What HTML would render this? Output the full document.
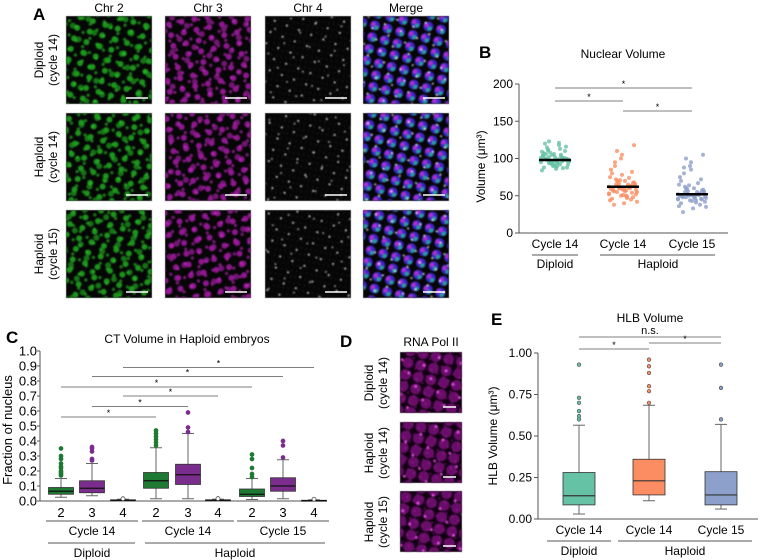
<!DOCTYPE html>
<html><head><meta charset="utf-8">
<style>
html,body{margin:0;padding:0;background:#fff;}
svg{display:block;font-family:"Liberation Sans",Arial,sans-serif;}
</style></head>
<body>
<svg id="fig" width="763" height="560" viewBox="0 0 763 560" xmlns="http://www.w3.org/2000/svg">
<defs>
  <filter id="blur1"><feGaussianBlur stdDeviation="0.8"/></filter>
  <pattern id="g1" width="13" height="11" patternUnits="userSpaceOnUse" patternTransform="rotate(17)"><circle cx="4" cy="4" r="3" fill="#1fb81f" fill-opacity="0.8"/></pattern>
  <pattern id="g2" width="17" height="15" patternUnits="userSpaceOnUse" patternTransform="rotate(-23)"><circle cx="6" cy="7" r="3" fill="#18a018" fill-opacity="0.7"/></pattern>
  <pattern id="g3" width="9" height="11" patternUnits="userSpaceOnUse" patternTransform="rotate(41)"><circle cx="3" cy="3" r="1.6" fill="#26cc26" fill-opacity="0.6"/></pattern>
  <pattern id="m1" width="13" height="11" patternUnits="userSpaceOnUse" patternTransform="rotate(-12)"><circle cx="4" cy="4" r="3" fill="#b41cb4" fill-opacity="0.8"/></pattern>
  <pattern id="m2" width="17" height="15" patternUnits="userSpaceOnUse" patternTransform="rotate(29)"><circle cx="6" cy="7" r="3" fill="#a018a0" fill-opacity="0.7"/></pattern>
  <pattern id="m3" width="9" height="11" patternUnits="userSpaceOnUse" patternTransform="rotate(-37)"><circle cx="3" cy="3" r="1.6" fill="#cc26cc" fill-opacity="0.6"/></pattern>
  <pattern id="w1" width="13" height="12" patternUnits="userSpaceOnUse" patternTransform="rotate(21)"><circle cx="4" cy="5" r="1" fill="#ddd"/></pattern>
  <pattern id="w2" width="19" height="17" patternUnits="userSpaceOnUse" patternTransform="rotate(-33)"><circle cx="6" cy="4" r="0.9" fill="#bbb"/></pattern>
  <pattern id="w3" width="5" height="6" patternUnits="userSpaceOnUse" patternTransform="rotate(11)"><circle cx="2" cy="2" r="0.4" fill="#555"/></pattern>
  <pattern id="b1" width="13" height="12" patternUnits="userSpaceOnUse" patternTransform="rotate(14)"><circle cx="6" cy="6" r="5" fill="#3a28c8"/></pattern>
  <pattern id="b2" width="13" height="12" patternUnits="userSpaceOnUse" patternTransform="rotate(14)"><circle cx="4" cy="5" r="2.3" fill="#c030d8" fill-opacity="0.85"/><circle cx="8" cy="8" r="2" fill="#20b890" fill-opacity="0.85"/></pattern>
  <pattern id="b3" width="13" height="12" patternUnits="userSpaceOnUse" patternTransform="rotate(-19)"><circle cx="5" cy="4" r="0.9" fill="#fff"/></pattern>
  <pattern id="pp1" width="13" height="12" patternUnits="userSpaceOnUse" patternTransform="rotate(12)"><circle cx="6.5" cy="6" r="5.4" fill="#6a0e6a"/></pattern>
  <pattern id="pp2" width="17" height="15" patternUnits="userSpaceOnUse" patternTransform="rotate(-27)"><circle cx="8" cy="8" r="1.2" fill="#ff55ff"/></pattern>
  <pattern id="pp3" width="7" height="8" patternUnits="userSpaceOnUse" patternTransform="rotate(33)"><circle cx="3" cy="3" r="1" fill="#a020a0" fill-opacity="0.6"/></pattern>
</defs>
<g id="panelA"></g>
<g id="panelB"></g>
<g id="panelC"></g>
<g id="panelD"></g>
<g id="panelE"></g>
</svg>
<script>
// ---------- data ----------
const bCategories = ["Cycle 14","Cycle 14","Cycle 15"];
const bMeans = [98, 62, 52];
const bDiploid = [98,102,95,110,88,105,92,99,115,97,101,84,108,94,100,120,90,103,96,112,86,99,104,93,118,97,106,91,101,95,123,89,100,107,96,113,92,98,102,87,109,94,99,116,100,93,105,97,111,90,98,103,95,121,88,100,106,96,101,94];
const bHaploid14 = [62,55,70,48,80,60,65,52,90,58,45,75,63,50,68,57,100,61,42,72,59,54,85,66,49,64,38,78,60,53,110,56,67,46,71,62,58,95,51,63,44,69,57,118,61,50,74,55,65,40,82,59,60,47,66,56,105,63,52,70];
const bHaploid15 = [52,48,60,45,70,50,55,42,80,51,38,65,53,47,58,49,90,52,35,62,50,46,75,56,44,54,28,85,51,46,100,48,57,40,64,52,49,88,43,53,36,59,50,105,51,44,67,47,55,33,72,50,51,41,56,48,95,53,45,60];
const cCategories = ["2","3","4","2","3","4","2","3","4"];
const cGroupLabels = ["Cycle 14","Cycle 14","Cycle 15"];
const cQ1 = [0.045,0.055,0.003,0.085,0.11,0.003,0.03,0.065,0.002];
const cMed = [0.065,0.085,0.005,0.135,0.175,0.005,0.045,0.10,0.003];
const cQ3 = [0.09,0.135,0.008,0.19,0.245,0.008,0.08,0.155,0.005];
const cLo = [0.025,0.035,0.001,0.015,0.015,0.001,0.01,0.015,0.001];
const cHi = [0.15,0.25,0.012,0.355,0.45,0.012,0.15,0.275,0.008];
const cOut = [[0.17,0.18,0.19,0.2,0.22,0.23,0.25,0.28,0.3,0.35],[0.27,0.28,0.33,0.35,0.36],[0.015],[0.37,0.39,0.41,0.43,0.45,0.47],[0.46,0.49,0.59],[0.016],[0.16,0.18,0.22,0.28,0.31],[0.29,0.37,0.4],[0.012]];
const cSigFrom = [2,1,0,2,1,0];
const cSigTo = [8,7,6,5,4,3];
const cSigY = [0.89,0.83,0.76,0.70,0.63,0.56];
const cTicks = [0,0.1,0.2,0.3,0.4,0.5,0.6,0.7,0.8,0.9,1.0];
const eCategories = ["Cycle 14","Cycle 14","Cycle 15"];
const eQ1 = [0.085,0.145,0.085];
const eMed = [0.14,0.23,0.145];
const eQ3 = [0.28,0.36,0.285];
const eLo = [0.03,0.11,0.06];
const eHi = [0.565,0.685,0.57];
const eOut = [[0.6,0.62,0.65,0.7,0.73,0.93],[0.7,0.77,0.8,0.88,0.92,0.96],[0.6,0.79,0.93]];
const eTicks = [0,0.25,0.5,0.75,1.0];
const bTicks = [0,50,100,150,200];

const NS="http://www.w3.org/2000/svg";
function mk(parent,tag,attrs,text){const e=document.createElementNS(NS,tag);for(const k in attrs)e.setAttribute(k,attrs[k]);if(text!==undefined)e.textContent=text;parent.appendChild(e);return e;}

// ---------- Panel A ----------
const A=document.getElementById('panelA');
let t;
t=mk(A,'text',{x:33,y:20,'font-size':17,'font-weight':'bold'},'A');

const colTitles=["Chr 2","Chr 3","Chr 4","Merge"];
const colX=[66,165,265,363];
const rowY=[16,113,210];
const rowLab=[["Diploid","(cycle 14)"],["Haploid","(cycle 14)"],["Haploid","(cycle 15)"]];
const pats=[["g1","g2","g3"],["m1","m2","m3"],["w1","w2","w3"],["b1","b2","b3"]];
colTitles.forEach((c,i)=>{t=mk(A,'text',{x:colX[i]+43,y:12,'font-size':12,'text-anchor':'middle'},c);
});
rowLab.forEach((r,j)=>{const cy=rowY[j]+44;
 const g=mk(A,'text',{transform:`translate(43,${cy}) rotate(-90)`,'font-size':12,'text-anchor':'middle'});
 
 mk(g,'tspan',{x:0,y:0},r[0]);mk(g,'tspan',{x:0,y:14},r[1]);});
colX.forEach((x,i)=>rowY.forEach((y,j)=>{
 const r=mk(A,'rect',{x:x,y:y,width:86,height:88,fill:'#060606',stroke:'#bbb','stroke-width':0.6});
 
 const gg=mk(A,'g',{filter:'url(#blur1)',transform:`translate(${j*5},${j*3})`});
 pats[i].forEach(p=>mk(gg,'rect',{x:x+0.5-j*5,y:y+0.5-j*3,width:85,height:87,fill:`url(#${p})`}));
 const s=mk(A,'line',{x1:x+60,x2:x+82,y1:y+82,y2:y+82,stroke:'#fff','stroke-width':1.5});
 
}));

// ---------- Panel D ----------
const D=document.getElementById('panelD');
t=mk(D,'text',{x:340,y:347,'font-size':17,'font-weight':'bold'},'D');

t=mk(D,'text',{x:431,y:346,'font-size':12,'text-anchor':'middle'},'RNA Pol II');

const dY=[352,422,491];
dY.forEach((y,j)=>{
 const r=mk(D,'rect',{x:400,y:y,width:62,height:61,fill:'#120012',stroke:'#bbb','stroke-width':0.6});
 
 const gg=mk(D,'g',{filter:'url(#blur1)'});
 ["pp1","pp3","pp2"].forEach(p=>mk(gg,'rect',{x:400.5,y:y+0.5,width:61,height:60,fill:`url(#${p})`}));
 mk(D,'line',{x1:443,x2:456,y1:y+55,y2:y+55,stroke:'#fff','stroke-width':1.5});
 const g=mk(D,'text',{transform:`translate(373,${y+31}) rotate(-90)`,'font-size':12,'text-anchor':'middle'});
 
 mk(g,'tspan',{x:0,y:0},rowLab[j][0]);mk(g,'tspan',{x:0,y:14},rowLab[j][1]);
});

function star(P,x1,x2,y,label){
 const l=mk(P,'line',{x1:x1,x2:x2,y1:y,y2:y,stroke:'#555','stroke-width':0.8});
 
 const s=mk(P,'text',{x:(x1+x2)/2,y:label==='*'?y-1:y-3,'font-size':label==='*'?9:11,'text-anchor':'middle'},label);
 
}
const FS=12;

// ---------- Panel B ----------
const B=document.getElementById('panelB');
const bx0=519,bx1=728,by0=233,by1=84;
const byS=v=>by0-(v/200)*(by0-by1);
const bxC=[555,623,692];
t=mk(B,'text',{x:479,y:58,'font-size':17,'font-weight':'bold'},'B');

t=mk(B,'text',{x:623,y:58,'font-size':FS,'text-anchor':'middle'},'Nuclear Volume');

mk(B,'line',{x1:bx0,x2:bx0,y1:by1,y2:by0,stroke:'#555'});
mk(B,'line',{x1:bx0,x2:bx1,y1:by0,y2:by0,stroke:'#555'});
bTicks.forEach(v=>{mk(B,'line',{x1:bx0-4,x2:bx0,y1:byS(v),y2:byS(v),stroke:'#555'});
 t=mk(B,'text',{x:bx0-6,y:byS(v)+4,'font-size':FS,'text-anchor':'end'},v);
 });
t=mk(B,'text',{transform:`translate(485,${(by0+by1)/2+8}) rotate(-90)`,'font-size':FS,'text-anchor':'middle'},'Volume (μm³)');

const bSeries=[bDiploid,bHaploid14,bHaploid15];const bCols=['#66c2a5','#fc8d62','#8da0cb'];
bSeries.forEach((arr,i)=>{arr.forEach((v,k)=>{const jx=((k*37)%29-14);
 const c=mk(B,'circle',{cx:bxC[i]+jx,cy:byS(v),r:2,fill:bCols[i],'fill-opacity':0.8});
 });
 const m=mk(B,'line',{x1:bxC[i]-16,x2:bxC[i]+16,y1:byS(bMeans[i]),y2:byS(bMeans[i]),stroke:'#000','stroke-width':2.5});
 
 t=mk(B,'text',{x:bxC[i],y:248,'font-size':FS,'text-anchor':'middle'},bCategories[i]);
 });
mk(B,'line',{x1:532,x2:578,y1:255,y2:255,stroke:'#555'});
mk(B,'line',{x1:600,x2:715,y1:255,y2:255,stroke:'#555'});
t=mk(B,'text',{x:555,y:268,'font-size':FS,'text-anchor':'middle'},'Diploid');
t=mk(B,'text',{x:658,y:268,'font-size':FS,'text-anchor':'middle'},'Haploid');
star(B,bxC[0],bxC[2],88,'*');star(B,bxC[0],bxC[1],101,'*');star(B,bxC[1],bxC[2],111,'*');

// ---------- Panel C ----------
const C=document.getElementById('panelC');
const cx0=40,cx1=327,cy0=501,cy1=351;
const cyS=v=>cy0-v*(cy0-cy1);
const cxC=[61,92,123,156,188,218,252,283,314];
t=mk(C,'text',{x:6,y:343,'font-size':17,'font-weight':'bold'},'C');

t=mk(C,'text',{x:187,y:343,'font-size':FS,'text-anchor':'middle'},'CT Volume in Haploid embryos');

mk(C,'line',{x1:cx0,x2:cx0,y1:cy1,y2:cy0,stroke:'#555'});
mk(C,'line',{x1:cx0,x2:cx1,y1:cy0,y2:cy0,stroke:'#555'});
cTicks.forEach(v=>{mk(C,'line',{x1:cx0-3,x2:cx0,y1:cyS(v),y2:cyS(v),stroke:'#555'});
 t=mk(C,'text',{x:cx0-3,y:cyS(v)+4.5,'font-size':13,'text-anchor':'end'},v.toFixed(1));
 });
t=mk(C,'text',{transform:`translate(12,${(cy0+cy1)/2+4}) rotate(-90)`,'font-size':13,'text-anchor':'middle'},'Fraction of nucleus');

const cFill=['#1e7a32','#7b2d8e','#ffffff'];
cCategories.forEach((c,i)=>{const x=cxC[i],w=25,col=cFill[i%3];
 mk(C,'line',{x1:x,x2:x,y1:cyS(cLo[i]),y2:cyS(cHi[i]),stroke:'#666'});
 mk(C,'line',{x1:x-6,x2:x+6,y1:cyS(cLo[i]),y2:cyS(cLo[i]),stroke:'#666'});
 mk(C,'line',{x1:x-6,x2:x+6,y1:cyS(cHi[i]),y2:cyS(cHi[i]),stroke:'#666'});
 const b=mk(C,'rect',{x:x-w/2,y:cyS(cQ3[i]),width:w,height:Math.max(1,cyS(cQ1[i])-cyS(cQ3[i])),fill:col,stroke:'#333','stroke-width':0.8});
 
 mk(C,'line',{x1:x-w/2,x2:x+w/2,y1:cyS(cMed[i]),y2:cyS(cMed[i]),stroke:'#111','stroke-width':1.2});
 cOut[i].forEach(v=>{const o=mk(C,'circle',{cx:x,cy:cyS(v),r:2,fill:i%3===2?'#fff':col,stroke:i%3===2?'#333':col,'stroke-width':0.7});
  });
 t=mk(C,'text',{x:x,y:517,'font-size':13,'text-anchor':'middle'},c);
 });
cGroupLabels.forEach((g,k)=>{const xm=cxC[k*3+1];
 mk(C,'line',{x1:xm-46,x2:xm+46,y1:521,y2:521,stroke:'#555'});
 t=mk(C,'text',{x:xm,y:535,'font-size':FS,'text-anchor':'middle'},g);});
mk(C,'line',{x1:48,x2:135,y1:543,y2:543,stroke:'#555'});
mk(C,'line',{x1:145,x2:325,y1:543,y2:543,stroke:'#555'});
t=mk(C,'text',{x:92,y:557,'font-size':FS,'text-anchor':'middle'},'Diploid');
t=mk(C,'text',{x:235,y:557,'font-size':FS,'text-anchor':'middle'},'Haploid');
cSigY.forEach((v,i)=>star(C,cxC[cSigFrom[i]],cxC[cSigTo[i]],cyS(v),'*'));

// ---------- Panel E ----------
const E=document.getElementById('panelE');
const ex0=538,ex1=758,ey0=519,ey1=353;
const eyS=v=>ey0-v*(ey0-ey1);
const exC=[579,649,721];
const eCols=['#66c2a5','#fc8d62','#8da0cb'];
t=mk(E,'text',{x:491,y:325,'font-size':17,'font-weight':'bold'},'E');

t=mk(E,'text',{x:650,y:322,'font-size':FS,'text-anchor':'middle'},'HLB Volume');

mk(E,'line',{x1:ex0,x2:ex0,y1:ey1,y2:ey0,stroke:'#555'});
mk(E,'line',{x1:ex0,x2:ex1,y1:ey0,y2:ey0,stroke:'#555'});
eTicks.forEach(v=>{mk(E,'line',{x1:ex0-4,x2:ex0,y1:eyS(v),y2:eyS(v),stroke:'#555'});
 t=mk(E,'text',{x:ex0-6,y:eyS(v)+4,'font-size':FS,'text-anchor':'end'},v.toFixed(2));
 });
t=mk(E,'text',{transform:`translate(497,${(ey0+ey1)/2}) rotate(-90)`,'font-size':FS,'text-anchor':'middle'},'HLB Volume (μm³)');

eCategories.forEach((c,i)=>{const x=exC[i],w=32,col=eCols[i];
 mk(E,'line',{x1:x,x2:x,y1:eyS(eLo[i]),y2:eyS(eHi[i]),stroke:'#666'});
 mk(E,'line',{x1:x-6,x2:x+6,y1:eyS(eLo[i]),y2:eyS(eLo[i]),stroke:'#666'});
 mk(E,'line',{x1:x-6,x2:x+6,y1:eyS(eHi[i]),y2:eyS(eHi[i]),stroke:'#666'});
 const b=mk(E,'rect',{x:x-w/2,y:eyS(eQ3[i]),width:w,height:eyS(eQ1[i])-eyS(eQ3[i]),fill:col,stroke:'#333','stroke-width':0.8});
 
 mk(E,'line',{x1:x-w/2,x2:x+w/2,y1:eyS(eMed[i]),y2:eyS(eMed[i]),stroke:'#333','stroke-width':1.2});
 eOut[i].forEach(v=>{const o=mk(E,'circle',{cx:x,cy:eyS(v),r:1.8,fill:col,stroke:'#444','stroke-width':0.6});
  });
 t=mk(E,'text',{x:x,y:534,'font-size':FS,'text-anchor':'middle'},c);
 });
mk(E,'line',{x1:547,x2:611,y1:541,y2:541,stroke:'#555'});
mk(E,'line',{x1:618,x2:752,y1:541,y2:541,stroke:'#555'});
t=mk(E,'text',{x:579,y:555,'font-size':FS,'text-anchor':'middle'},'Diploid');
t=mk(E,'text',{x:685,y:555,'font-size':FS,'text-anchor':'middle'},'Haploid');
star(E,exC[0],exC[2],337,'n.s.');star(E,exC[0],exC[1],349,'*');star(E,exC[1],exC[2],343,'*');
</script>
</body></html>
